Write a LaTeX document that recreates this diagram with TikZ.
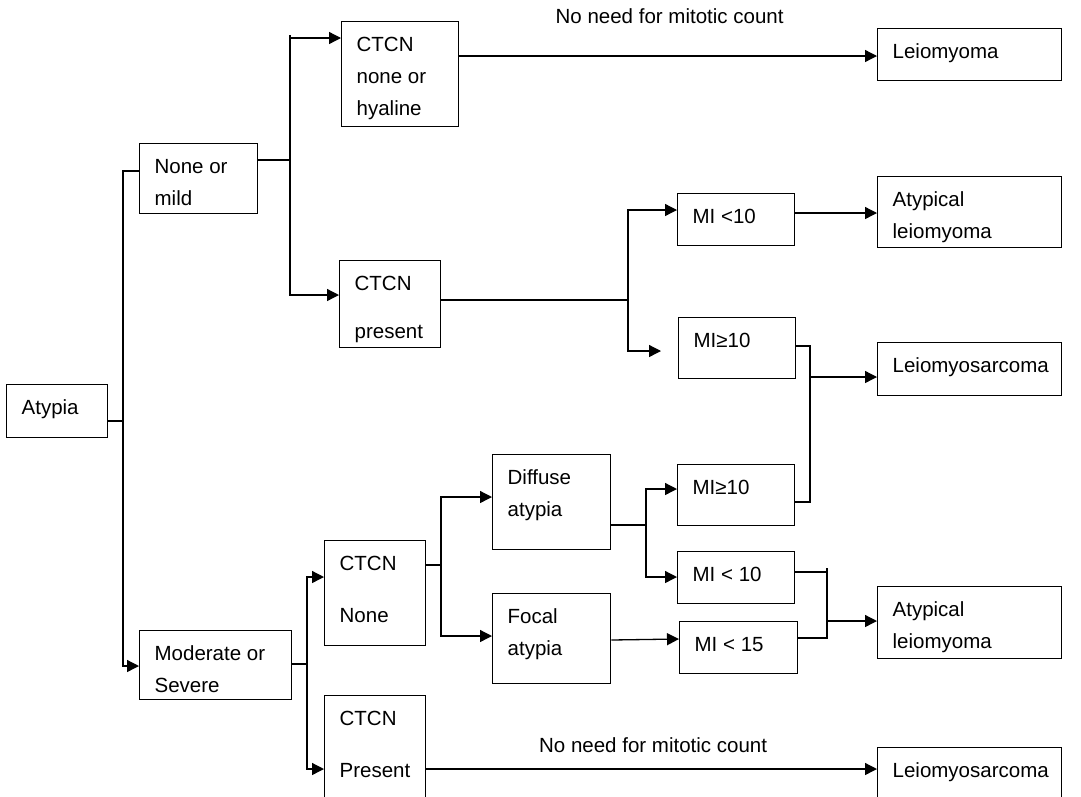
\documentclass[tikz,border=0pt]{standalone}
\usepackage{fontspec}
\setmainfont{Liberation Sans}
\usetikzlibrary{arrows.meta}
\hyphenpenalty=10000
\tikzset{
  box/.style={draw, anchor=north west, inner xsep=15pt, inner ysep=0pt, text height=30pt, align=flush left},
  arr/.style={-{Triangle[length=12pt,width=12pt]}},
  note/.style={anchor=base west, inner sep=0pt}
}
\begin{document}
\begin{tikzpicture}[x=1pt, y=-1pt, line width=1.3pt, font=\fontsize{20.5}{32}\selectfont]
\useasboundingbox (0,0) rectangle (1081,796);
\clip (0,0) rectangle (1081,796);
\node[box, text width=71pt, text depth=23pt] (aty) at (6,384) {Atypia};
\node[box, text width=88pt, text depth=40pt] (nm) at (139,143) {None or\\mild};
\node[box, text width=87pt, text depth=75pt] (cn) at (341,21) {CTCN\\none or\\hyaline};
\node[box, text width=71pt, text depth=57pt] (cp) at (339,260) {CTCN\\[16pt]present};
\node[box, text width=154pt, text depth=22pt] (lm) at (877,28) {Leiomyoma};
\node[box, text width=87pt, text depth=22pt] (mi1) at (677,193) {MI <10};
\node[box, text width=154pt, text depth=41pt] (al1) at (877,176) {Atypical\\leiomyoma};
\node[box, text width=87pt, text depth=31pt] (mg1) at (678,317) {MI≥10};
\node[box, text width=154pt, text depth=23pt] (ls1) at (877,342) {Leiomyosarcoma};
\node[box, text width=122pt, text depth=39pt] (ms) at (139,630) {Moderate or\\Severe};
\node[box, text width=71pt, text depth=75pt] (cnn) at (324,540) {CTCN\\[20pt]None};
\node[box, text width=71pt, text depth=80pt] (cpp) at (324,695) {CTCN\\[20pt]Present};
\node[box, text width=88pt, text depth=65pt] (da) at (492,454) {Diffuse\\atypia};
\node[box, text width=88pt, text depth=60pt] (fa) at (492,593) {Focal\\atypia};
\node[box, text width=87pt, text depth=31pt] (mg2) at (677,464) {MI≥10};
\node[box, text width=87pt, text depth=22pt] (ml2) at (677,551) {MI < 10};
\node[box, text width=88pt, text depth=22pt] (m15) at (679,621) {MI < 15};
\node[box, text width=154pt, text depth=42pt] (al2) at (877,586) {Atypical\\leiomyoma};
\node[box, text width=154pt, text depth=50pt] (ls2) at (877,747) {Leiomyosarcoma};
\draw (nm.west |- 0,171) -| (123,421) -- (aty.east |- 0,421);
\draw[arr] (123,421) |- (ms.west |- 0,666);
\draw (nm.east |- 0,160) -- (290,160) -- (290,35);
\draw[arr] (290,38) -- (cn.west |- 0,38);
\draw[arr] (290,160) |- (cp.west |- 0,295);
\draw[arr] (cn.east |- 0,56) -- (lm.west |- 0,56);
\node[note] (nn1) at (555,23) {No need for mitotic count};
\draw (cp.east |- 0,300) -- (628,300);
\draw[arr] (628,300) |- (mi1.west |- 0,210);
\coordinate (stub) at (661,351);
\draw[arr] (628,300) |- (stub);
\draw[arr] (mi1.east |- 0,213) -- (al1.west |- 0,213);
\draw (mg1.east |- 0,346) -| (810,502) -- (mg2.east |- 0,502);
\draw[arr] (810,377) -- (ls1.west |- 0,377);
\draw (ms.east |- 0,664) -- (307,664);
\draw[arr] (307,664) |- (cnn.west |- 0,577);
\draw[arr] (307,664) |- (cpp.west |- 0,769);
\draw (cnn.east |- 0,565) -- (441,565);
\draw[arr] (441,565) |- (da.west |- 0,497);
\draw[arr] (441,565) |- (fa.west |- 0,636);
\draw[arr] (cpp.east |- 0,769) -- (ls2.west |- 0,769);
\node[note] (nn2) at (538.5,752) {No need for mitotic count};
\draw (da.east |- 0,525) -- (646,525);
\draw[arr] (646,525) |- (mg2.west |- 0,489);
\draw[arr] (646,525) |- (ml2.west |- 0,577);
\draw[arr] (fa.east |- 0,640) -- (m15.west |- 0,639);
\draw (ml2.east |- 0,572) -- (827,572);
\draw (827,568) -- (827,638) -- (m15.east |- 0,638);
\draw[arr] (827,621) -- (al2.west |- 0,621);
\end{tikzpicture}
\end{document}
